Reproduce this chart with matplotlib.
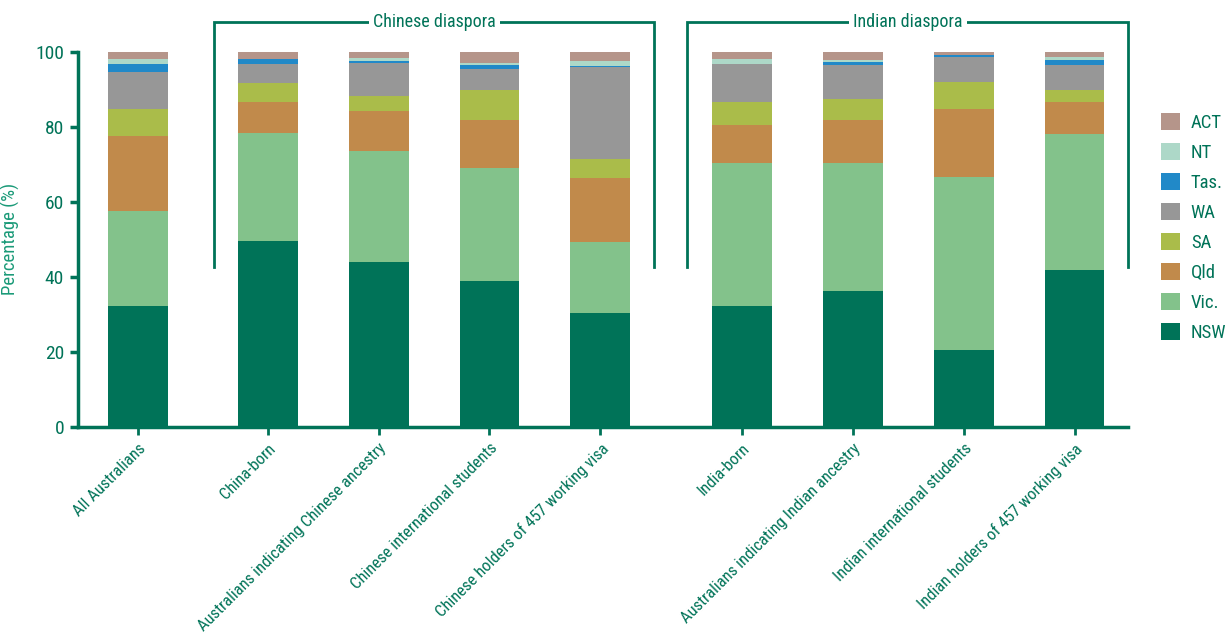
import numpy as np
import matplotlib
matplotlib.use("Agg")
import matplotlib.pyplot as plt
from matplotlib.patches import Patch

# groups shown along the x axis
groups = ["All Australians", "China-born", "Australians indicating Chinese ancestry",
          "Chinese international students", "Chinese holders of 457 working visa",
          "India-born", "Australians indicating Indian ancestry",
          "Indian international students", "Indian holders of 457 working visa"]

# share of each group living in each state/territory (%)
nsw = [32.2, 49.5, 43.9, 38.9, 30.3, 32.2, 36.2, 20.5, 41.8]
vic = [25.3, 28.8, 29.6, 30.1, 19.0, 38.1, 34.1, 46.1, 36.3]
qld = [20.0, 8.3, 10.7, 12.8, 17.0, 10.2, 11.5, 18.1, 8.5]
sa = [7.2, 5.1, 4.0, 8.0, 5.1, 6.1, 5.6, 7.2, 3.2]
wa = [9.9, 5.0, 8.8, 5.6, 24.5, 10.1, 9.1, 6.7, 6.7]
tas = [2.1, 1.3, 0.5, 1.1, 0.3, 0.0, 0.8, 0.5, 1.3]
nt = [1.3, 0.2, 0.8, 0.5, 1.3, 1.3, 0.5, 0.0, 0.8]
act = [2.0, 1.8, 1.7, 3.0, 2.5, 2.0, 2.2, 0.9, 1.4]

states = ["NSW", "Vic.", "Qld", "SA", "WA", "Tas.", "NT", "ACT"]
colors = ["#007358", "#83c28b", "#c18a4b", "#aabc4a", "#979797", "#2189c8", "#add8c8", "#b5958a"]
series = [nsw, vic, qld, sa, wa, tas, nt, act]

pos = [0, 1.174, 2.174, 3.174, 4.174, 5.457, 6.457, 7.457, 8.457]
green = "#007358"
plt.rcParams["font.family"] = ["Roboto Condensed", "Liberation Sans Narrow", "Roboto", "DejaVu Sans"]

fig = plt.figure(figsize=(12.3, 6.39), dpi=100)
ax = fig.add_axes([0.0634, 0.332, 0.8537, 0.587])

bottom = np.zeros(len(groups))
for vals, col in zip(series, colors):
    ax.bar(pos, vals, width=0.54, bottom=bottom, color=col, linewidth=0)
    bottom += np.array(vals)

ax.set_xlim(-0.542, 8.94)
ax.set_ylim(0, 100)
ax.set_yticks([0, 20, 40, 60, 80, 100])
ax.set_xticks(pos)
ax.set_xticklabels(groups, rotation=45, ha="right", rotation_mode="anchor",
                   color=green, fontsize=12)
ax.tick_params(axis="y", colors=green, labelsize=14, width=2.5, length=6,
               direction="out", pad=4)
ax.tick_params(axis="x", colors=green, width=2, length=6, direction="out", pad=4)
for lab in ax.get_yticklabels():
    lab.set_color(green)
for s in ["top", "right"]:
    ax.spines[s].set_visible(False)
for s in ["left", "bottom"]:
    ax.spines[s].set_color(green)
    ax.spines[s].set_linewidth(2.5)
ax.set_ylabel("Percentage (%)", color="#1a9a78", fontsize=13.5)
ax.yaxis.set_label_coords(-0.055, 0.5)

# diaspora brackets
def bracket(x0, x1, label):
    y0, y1 = 42.6, 107.9
    xm = (x0 + x1) / 2
    ax.plot([x0, x0, x1, x1], [y0, y1, y1, y0], color=green, lw=2,
            clip_on=False, solid_joinstyle="miter")
    ax.text(xm, y1, label, ha="center", va="center", color=green, fontsize=13,
            bbox=dict(facecolor="white", edgecolor="none", pad=3), clip_on=False)

bracket(0.687, 4.66, "Chinese diaspora")
bracket(4.96, 8.94, "Indian diaspora")

handles = [Patch(facecolor=c, edgecolor="none") for c in colors][::-1]
leg = fig.legend(handles, states[::-1], loc="upper left", bbox_to_anchor=(0.93, 0.85),
                 frameon=False, fontsize=13.5, handlelength=1.0, handleheight=1.0,
                 labelspacing=0.6, handletextpad=0.6)
for t in leg.get_texts():
    t.set_color(green)

fig.savefig("out.png", dpi=100)
